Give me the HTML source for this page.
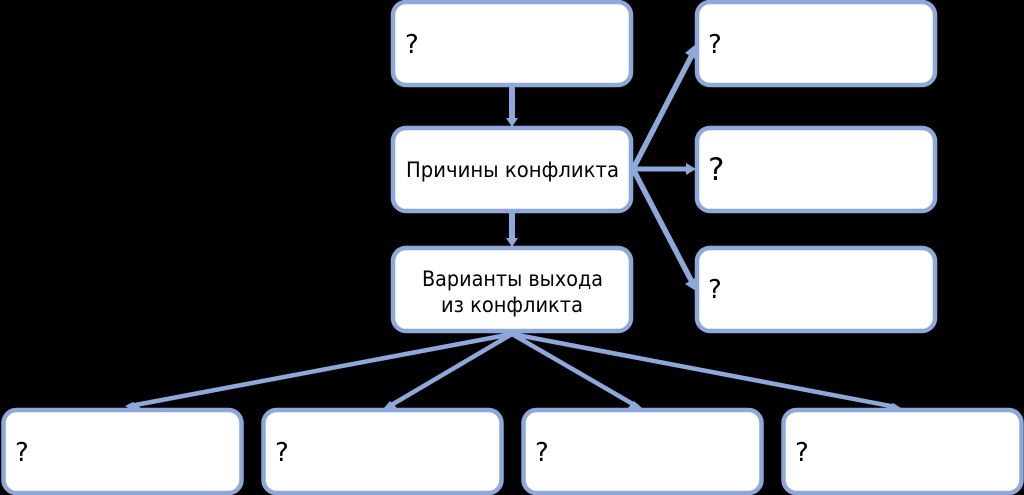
<!DOCTYPE html>
<html><head><meta charset="utf-8"><style>
html,body{margin:0;padding:0;background:#000;width:1024px;height:495px;overflow:hidden}
svg{display:block}
text{font-family:"DejaVu Sans","Liberation Sans",sans-serif;font-size:21.5px;fill:#000}
.q{font-size:26px}
.b{fill:#fff;stroke:#8ea8d9;stroke-width:4.5}
.l{stroke:#8ea8d9;fill:none}
.a{fill:#8ea8d9}
</style></head><body>
<svg width="1024" height="495" viewBox="0 0 1024 495" xmlns="http://www.w3.org/2000/svg">
<!-- connectors -->
<line class="l" stroke-width="6" x1="512" y1="86" x2="512" y2="120"/>
<polygon class="a" points="506,118 518,118 512,127"/>
<line class="l" stroke-width="6" x1="512" y1="211" x2="512" y2="240"/>
<polygon class="a" points="506,238 518,238 512,247"/>
<line class="l" stroke-width="5" x1="633" y1="169" x2="690" y2="169"/>
<polygon class="a" points="686,163 686,175 696,169"/>
<line class="l" stroke-width="5.5" x1="633" y1="169" x2="692" y2="55"/>
<polygon class="a" points="685,53 695,59 696,44"/>
<line class="l" stroke-width="5.5" x1="633" y1="169" x2="692" y2="282"/>
<polygon class="a" points="685,284 695,278 696,291"/>
<line class="l" stroke-width="4.5" x1="512" y1="334" x2="130" y2="406"/>
<polygon class="a" points="125,406 133,402 142,409 130,409"/>
<line class="l" stroke-width="4.5" x1="512" y1="334" x2="388" y2="407"/>
<polygon class="a" points="384,408 390,401 398,409"/>
<line class="l" stroke-width="4.5" x1="512" y1="334" x2="638" y2="407"/>
<polygon class="a" points="642,408 634,401 627,409"/>
<line class="l" stroke-width="4.5" x1="512" y1="334" x2="896" y2="407"/>
<polygon class="a" points="901,408 893,403 885,409 895,411"/>
<!-- boxes -->
<rect class="b" x="393" y="2" width="238" height="83" rx="13"/>
<rect class="b" x="393" y="128" width="238" height="83" rx="13"/>
<rect class="b" x="393" y="248" width="238" height="83" rx="13"/>
<rect class="b" x="697" y="2" width="238" height="83" rx="13"/>
<rect class="b" x="697" y="128" width="238" height="83" rx="13"/>
<rect class="b" x="697" y="248" width="238" height="83" rx="13"/>
<rect class="b" x="3.5" y="410" width="238" height="83" rx="13"/>
<rect class="b" x="263.5" y="410" width="238" height="83" rx="13"/>
<rect class="b" x="523.5" y="410" width="238" height="83" rx="13"/>
<rect class="b" x="783.5" y="410" width="238" height="83" rx="13"/>
<!-- labels -->
<text class="q" x="405" y="53">?</text>
<text x="406" y="177" textLength="213" lengthAdjust="spacingAndGlyphs">Причины конфликта</text>
<text x="422" y="286" textLength="181" lengthAdjust="spacingAndGlyphs">Варианты выхода</text>
<text x="441" y="312" textLength="142" lengthAdjust="spacingAndGlyphs">из конфликта</text>
<text class="q" x="708" y="53">?</text>
<text x="708" y="180" style="font-size:31px">?</text>
<text class="q" x="708" y="298">?</text>
<text class="q" x="15" y="461">?</text>
<text class="q" x="275" y="461">?</text>
<text class="q" x="535" y="461">?</text>
<text class="q" x="795" y="461">?</text>
</svg>
</body></html>
